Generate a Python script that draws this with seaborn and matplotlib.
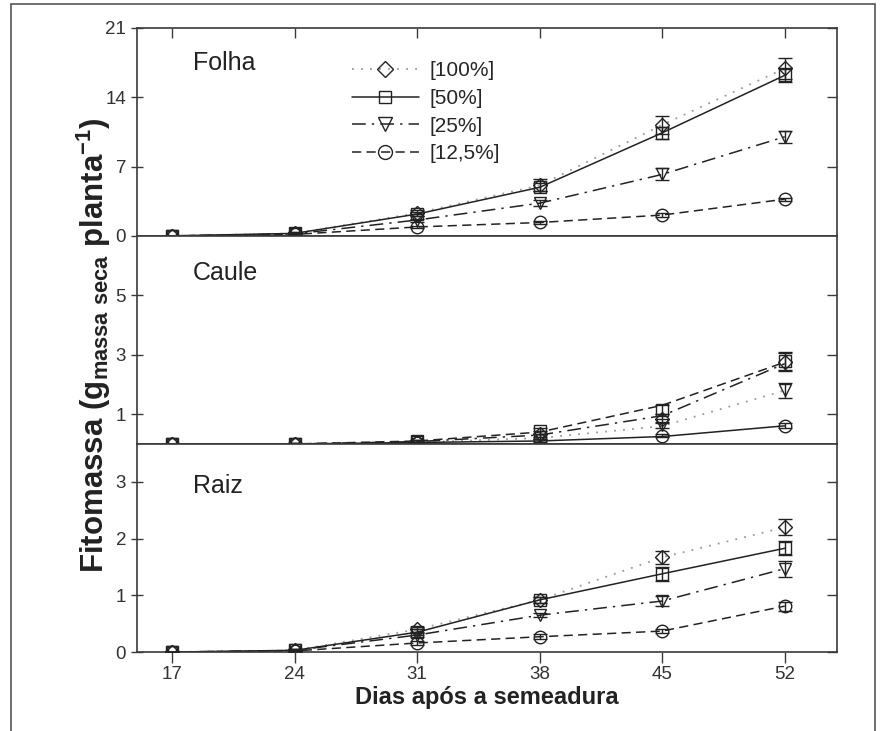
import numpy as np
import pandas as pd
import matplotlib
matplotlib.use("Agg")
import matplotlib.pyplot as plt
import seaborn as sns
from matplotlib.lines import Line2D
from matplotlib.patches import Rectangle

# ---------------- data ----------------
days = [17, 24, 31, 38, 45, 52]
series = ["[100%]", "[50%]", "[25%]", "[12,5%]"]

# Folha (leaf)
folha_100 = [0, 0.25, 2.3, 5.1, 11.2, 16.9]
folha_50 = [0, 0.25, 2.2, 4.9, 10.4, 16.2]
folha_25 = [0, 0.2, 1.6, 3.3, 6.2, 10.0]
folha_12 = [0, 0.15, 0.9, 1.35, 2.1, 3.7]
folha_err_100 = [0, 0.1, 0.3, 0.6, 0.9, 1.1]
folha_err_50 = [0, 0.1, 0.2, 0.4, 0.6, 0.7]
folha_err_25 = [0, 0.1, 0.15, 0.3, 0.6, 0.6]
folha_err_12 = [0, 0.05, 0.1, 0.2, 0.2, 0.15]

# Caule (stem) - observed means
caule_100 = [0, 0, 0.08, 0.35, 0.85, 2.76]
caule_50 = [0, 0, 0.1, 0.45, 1.15, 2.8]
caule_25 = [0, 0, 0.07, 0.25, 0.65, 1.8]
caule_12 = [0, 0, 0.03, 0.12, 0.27, 0.61]
caule_err_100 = [0, 0.02, 0.05, 0.1, 0.15, 0.3]
caule_err_50 = [0, 0.02, 0.05, 0.1, 0.15, 0.3]
caule_err_25 = [0, 0.02, 0.05, 0.08, 0.1, 0.25]
caule_err_12 = [0, 0.01, 0.03, 0.05, 0.05, 0.08]
# Caule fitted curves (as drawn)
caule_fit_100 = [0, 0, 0.05, 0.2, 0.6, 1.8]
caule_fit_50 = [0, 0, 0.05, 0.1, 0.25, 0.61]
caule_fit_25 = [0, 0, 0.08, 0.3, 0.95, 2.7]
caule_fit_12 = [0, 0, 0.1, 0.4, 1.3, 2.75]

# Raiz (root)
raiz_100 = [0, 0.03, 0.4, 0.92, 1.67, 2.2]
raiz_50 = [0, 0.03, 0.35, 0.92, 1.38, 1.83]
raiz_25 = [0, 0.03, 0.3, 0.65, 0.9, 1.47]
raiz_12 = [0, 0.02, 0.16, 0.27, 0.37, 0.81]
raiz_err_100 = [0, 0.02, 0.05, 0.05, 0.12, 0.14]
raiz_err_50 = [0, 0.02, 0.05, 0.05, 0.12, 0.12]
raiz_err_25 = [0, 0.02, 0.04, 0.04, 0.08, 0.14]
raiz_err_12 = [0, 0.01, 0.03, 0.04, 0.04, 0.08]

panel_names = ["Folha", "Caule", "Raiz"]
ylims = [(0, 21), (0, 7), (0, 3.67)]
yticks = [[0, 7, 14, 21], [1, 3, 5], [0, 1, 2, 3]]

# ---------------- style ----------------
sns.set_theme(style="ticks")
plt.rcParams["font.family"] = ["Liberation Sans", "DejaVu Sans"]
plt.rcParams["mathtext.fontset"] = "custom"
plt.rcParams["mathtext.rm"] = "Liberation Sans"
plt.rcParams["mathtext.bf"] = "Liberation Sans:bold"

spine_c = "#3a3a3a"
line_c = "#222222"
markers = ["D", "s", "v", "o"]
msizes = [7.5, 8, 8.5, 9]
line_styles = [(0, (1, 4)), "-", (0, (9, 4, 1.5, 4)), (0, (6, 3.5))]
line_colors = ["#999999", line_c, line_c, line_c]
line_widths = [1.3, 1.1, 1.1, 1.1]

obs = [
    [folha_100, folha_50, folha_25, folha_12],
    [caule_100, caule_50, caule_25, caule_12],
    [raiz_100, raiz_50, raiz_25, raiz_12],
]
errs = [
    [folha_err_100, folha_err_50, folha_err_25, folha_err_12],
    [caule_err_100, caule_err_50, caule_err_25, caule_err_12],
    [raiz_err_100, raiz_err_50, raiz_err_25, raiz_err_12],
]
fits = [
    [folha_100, folha_50, folha_25, folha_12],
    [caule_fit_100, caule_fit_50, caule_fit_25, caule_fit_12],
    [raiz_100, raiz_50, raiz_25, raiz_12],
]

fig, axes = plt.subplots(3, 1, sharex=True, figsize=(8.85, 7.31), dpi=100,
                         gridspec_kw=dict(hspace=0))
fig.subplots_adjust(left=0.155, right=0.946, top=0.962, bottom=0.108)

label_y = [0.83, 0.82, 0.80]
for p, ax in enumerate(axes):
    for i, s in enumerate(series):
        df = pd.DataFrame({"day": days, "value": fits[p][i]})
        sns.lineplot(data=df, x="day", y="value", ax=ax, color=line_colors[i],
                     linestyle=line_styles[i], linewidth=line_widths[i],
                     errorbar=None, legend=False, zorder=2)
    for i, s in enumerate(series):
        ax.errorbar(days, obs[p][i], yerr=errs[p][i], fmt=markers[i],
                    mfc="none", mec=line_c, mew=1.0, ms=msizes[i],
                    ecolor=line_c, elinewidth=1.0, capsize=4.8, capthick=1.0,
                    linestyle="none", zorder=3)
    ax.set_xlim(15, 55)
    ax.set_ylim(*ylims[p])
    ax.set_yticks(yticks[p])
    ax.set_xticks(days)
    ax.set_xlabel("")
    ax.set_ylabel("")
    for sp in ax.spines.values():
        sp.set_visible(True)
        sp.set_color(spine_c)
        sp.set_linewidth(1.2)
    ax.tick_params(axis="y", which="both", left=True, right=True, direction="inout",
                   length=9, width=1.0, color=spine_c, labelsize=13.5,
                   labelcolor="#333333")
    ax.tick_params(axis="y", right=True, labelright=False)
    ax.tick_params(axis="x", bottom=True, direction="out", length=8, width=1.0,
                   color=spine_c, labelsize=13.5, labelcolor="#333333", pad=2)
    ax.text(0.08, label_y[p], panel_names[p], transform=ax.transAxes, fontsize=18,
            va="center", ha="left", color="#222222")

# right-side ticks inward
for ax in axes:
    for t in ax.yaxis.get_major_ticks():
        t.tick2line.set_marker(matplotlib.lines.TICKLEFT)
        t.tick2line.set_markersize(7)

axes[0].tick_params(axis="x", top=True, labeltop=False)
for t in axes[0].xaxis.get_major_ticks():
    t.tick2line.set_marker(matplotlib.lines.TICKDOWN)
    t.tick2line.set_markersize(7)

axes[2].set_xlabel("Dias após a semeadura", fontsize=17, fontweight="bold",
                   color="#222222", labelpad=2)

fig.text(0.106, 0.528,
         r"Fitomassa (g$_{\mathbf{massa\ seca}}$ planta$^{\mathbf{-1}}$)",
         rotation=90, ha="center", va="center", fontsize=22.5,
         fontweight="bold", color="#222222")

# legend
handles = []
for i, s in enumerate(series):
    handles.append(Line2D([0], [0], color=line_colors[i], linestyle=line_styles[i],
                          linewidth=line_widths[i], marker=markers[i], mfc="none",
                          mec=line_c, ms=msizes[i] + 1, mew=1.0))
axes[0].legend(handles, series, loc="upper left", bbox_to_anchor=(0.28, 0.93),
               frameon=False, fontsize=15, handlelength=3.2, handletextpad=0.5,
               labelspacing=0.42)

# outer frame
fig.add_artist(Rectangle((11 / 885, -0.02), (875 - 11) / 885, 1 - 4 / 731 + 0.02,
                         transform=fig.transFigure, fill=False,
                         edgecolor="#555555", linewidth=1.2))

fig.savefig("out.png", dpi=100)
